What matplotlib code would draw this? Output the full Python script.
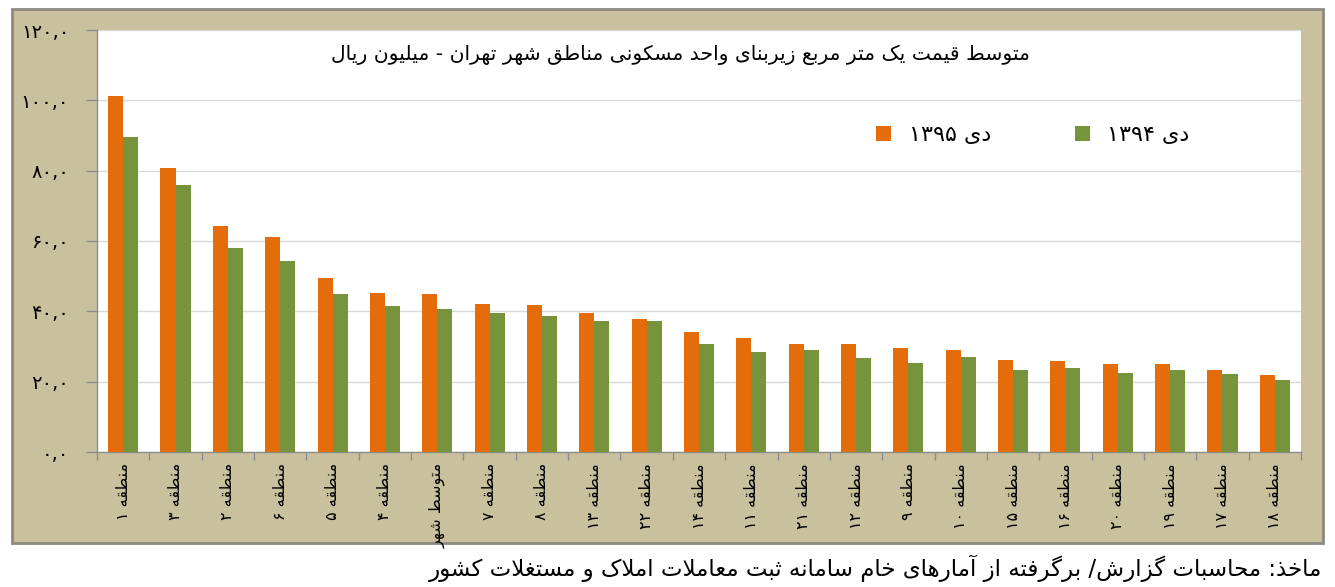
import matplotlib
matplotlib.use("Agg")
import matplotlib.pyplot as plt
from matplotlib.patches import Rectangle, Patch
import numpy as np

# ---------------- data ----------------
categories = ["منطقه ۱", "منطقه ۳", "منطقه ۲", "منطقه ۶", "منطقه ۵", "منطقه ۴",
              "متوسط شهر", "منطقه ۷", "منطقه ۸", "منطقه ۱۳", "منطقه ۲۲", "منطقه ۱۴",
              "منطقه ۱۱", "منطقه ۲۱", "منطقه ۱۲", "منطقه ۹", "منطقه ۱۰", "منطقه ۱۵",
              "منطقه ۱۶", "منطقه ۲۰", "منطقه ۱۹", "منطقه ۱۷", "منطقه ۱۸"]
values_1395 = [101.1, 80.8, 64.3, 61.0, 49.6, 45.1, 44.8, 42.0, 41.8, 39.6, 37.7, 34.0,
               32.5, 30.7, 30.7, 29.5, 29.1, 26.1, 25.8, 25.1, 24.9, 23.2, 21.8]
values_1394 = [89.7, 76.0, 57.9, 54.4, 44.9, 41.5, 40.8, 39.6, 38.6, 37.2, 37.2, 30.7,
               28.3, 29.0, 26.8, 25.3, 27.0, 23.3, 23.9, 22.4, 23.2, 22.2, 20.5]
series_labels = ["دی ۱۳۹۵", "دی ۱۳۹۴"]
yticks = [0, 20, 40, 60, 80, 100, 120]
title_text = "متوسط قیمت یک متر مربع زیربنای واحد مسکونی مناطق شهر تهران - میلیون ریال"
source_text = "ماخذ: محاسبات گزارش/ برگرفته از آمارهای خام سامانه ثبت معاملات املاک و مستغلات کشور"

# ---------------- minimal Persian shaping + bidi ----------------
FORMS = {
    'ا': ('\uFE8D', '\uFE8E', None, None), 'آ': ('\uFE81', '\uFE82', None, None),
    'ب': ('\uFE8F', '\uFE90', '\uFE91', '\uFE92'), 'پ': ('\uFB56', '\uFB57', '\uFB58', '\uFB59'),
    'ت': ('\uFE95', '\uFE96', '\uFE97', '\uFE98'), 'ث': ('\uFE99', '\uFE9A', '\uFE9B', '\uFE9C'),
    'ج': ('\uFE9D', '\uFE9E', '\uFE9F', '\uFEA0'), 'چ': ('\uFB7A', '\uFB7B', '\uFB7C', '\uFB7D'),
    'ح': ('\uFEA1', '\uFEA2', '\uFEA3', '\uFEA4'), 'خ': ('\uFEA5', '\uFEA6', '\uFEA7', '\uFEA8'),
    'د': ('\uFEA9', '\uFEAA', None, None), 'ذ': ('\uFEAB', '\uFEAC', None, None),
    'ر': ('\uFEAD', '\uFEAE', None, None), 'ز': ('\uFEAF', '\uFEB0', None, None),
    'ژ': ('\uFB8A', '\uFB8B', None, None),
    'س': ('\uFEB1', '\uFEB2', '\uFEB3', '\uFEB4'), 'ش': ('\uFEB5', '\uFEB6', '\uFEB7', '\uFEB8'),
    'ص': ('\uFEB9', '\uFEBA', '\uFEBB', '\uFEBC'), 'ض': ('\uFEBD', '\uFEBE', '\uFEBF', '\uFEC0'),
    'ط': ('\uFEC1', '\uFEC2', '\uFEC3', '\uFEC4'), 'ظ': ('\uFEC5', '\uFEC6', '\uFEC7', '\uFEC8'),
    'ع': ('\uFEC9', '\uFECA', '\uFECB', '\uFECC'), 'غ': ('\uFECD', '\uFECE', '\uFECF', '\uFED0'),
    'ف': ('\uFED1', '\uFED2', '\uFED3', '\uFED4'), 'ق': ('\uFED5', '\uFED6', '\uFED7', '\uFED8'),
    'ک': ('\uFB8E', '\uFB8F', '\uFB90', '\uFB91'), 'گ': ('\uFB92', '\uFB93', '\uFB94', '\uFB95'),
    'ل': ('\uFEDD', '\uFEDE', '\uFEDF', '\uFEE0'), 'م': ('\uFEE1', '\uFEE2', '\uFEE3', '\uFEE4'),
    'ن': ('\uFEE5', '\uFEE6', '\uFEE7', '\uFEE8'), 'و': ('\uFEED', '\uFEEE', None, None),
    'ه': ('\uFEE9', '\uFEEA', '\uFEEB', '\uFEEC'), 'ی': ('\uFBFC', '\uFBFD', '\uFBFE', '\uFBFF'),
}
LAM_ALEF = {'ا': ('\uFEFB', '\uFEFC'), 'آ': ('\uFEF5', '\uFEF6')}


def _dual(c):
    return c in FORMS and FORMS[c][2] is not None


def shape(s):
    out = []
    i = 0
    n = len(s)
    while i < n:
        c = s[i]
        if c not in FORMS:
            out.append(c)
            i += 1
            continue
        prev = s[i - 1] if i > 0 else ''
        cp = _dual(prev)
        if c == 'ل' and i + 1 < n and s[i + 1] in LAM_ALEF:
            iso, fin = LAM_ALEF[s[i + 1]]
            out.append(fin if cp else iso)
            i += 2
            continue
        nxt = s[i + 1] if i + 1 < n else ''
        cn = _dual(c) and nxt in FORMS
        iso, fin, ini, med = FORMS[c]
        if cp and cn:
            out.append(med)
        elif cp:
            out.append(fin)
        elif cn:
            out.append(ini)
        else:
            out.append(iso)
        i += 1
    return ''.join(out)


def is_ltr(c):
    return ('\u06F0' <= c <= '\u06F9') or c.isdigit() or c in ',.'


def fa(s):
    sh = shape(s)
    runs = []
    for c in sh:
        kind = is_ltr(c)
        if runs and runs[-1][0] == kind:
            runs[-1][1].append(c)
        else:
            runs.append([kind, [c]])
    vis = []
    for kind, chars in reversed(runs):
        vis.append(''.join(chars) if kind else ''.join(reversed(chars)))
    return ''.join(vis)


def fa_digits(s):
    return s.translate(str.maketrans('0123456789', '۰۱۲۳۴۵۶۷۸۹'))


# ---------------- figure ----------------
W, H = 1335, 587
plt.rcParams['font.family'] = ['DejaVu Sans']
fig = plt.figure(figsize=(W / 100, H / 100), dpi=100, facecolor='white')

tan = '#C9C19D'
frame = Rectangle((12 / W, 1 - 543 / H), (1323 - 12) / W, (543 - 9) / H,
                  transform=fig.transFigure, facecolor=tan, edgecolor='#8C8A7E',
                  linewidth=2.0, zorder=-10)
fig.patches.append(frame)

ax_left, ax_right, ax_top, ax_bot = 97, 1301, 30, 452
ax = fig.add_axes([ax_left / W, 1 - ax_bot / H, (ax_right - ax_left) / W, (ax_bot - ax_top) / H])
ax.set_zorder(5)
ax.set_facecolor('white')

x = np.arange(len(categories))
bw = 0.287
ax.bar(x - bw / 2, values_1395, bw, color='#E46C0A', label=fa(series_labels[0]), zorder=3)
ax.bar(x + bw / 2, values_1394, bw, color='#77933C', label=fa(series_labels[1]), zorder=3)

ax.set_xlim(-0.5, len(categories) - 0.5)
ax.set_ylim(0, 120)
ax.set_yticks(yticks)
ax.set_yticklabels([fa_digits(f"{v:.1f}".replace('.', ',')) for v in yticks], fontsize=14)
ax.yaxis.grid(True, color='#D9D9D9', linewidth=1.0, zorder=0)
ax.set_axisbelow(True)
ax.tick_params(axis='y', length=8, width=1, color='#8C8C8C', pad=12)

ax.set_xticks(x)
ax.set_xticklabels([fa(c) for c in categories], rotation=90, fontsize=11.5, va='top', ha='center')
ax.tick_params(axis='x', which='major', length=0, pad=8)
ax.set_xticks(np.arange(len(categories) + 1) - 0.5, minor=True)
ax.tick_params(axis='x', which='minor', length=6, width=1, color='#8C8C8C')

for s in ('top', 'right'):
    ax.spines[s].set_visible(False)
for s in ('left', 'bottom'):
    ax.spines[s].set_color('#8C8C8C')
    ax.spines[s].set_linewidth(1.0)

ax.text((680 - ax_left) / (ax_right - ax_left), (ax_bot - 55) / (ax_bot - ax_top), fa(title_text),
        transform=ax.transAxes, ha='center', va='center', fontsize=14.6,
        color='black', zorder=6)

leg = ax.legend(ncol=2, loc='center', bbox_to_anchor=((1033 - ax_left) / (ax_right - ax_left),
                                                      (ax_bot - 135) / (ax_bot - ax_top)),
                frameon=False, fontsize=16, handlelength=0.65, handleheight=0.65,
                handletextpad=0.8, columnspacing=3.8)

fig.text(1322 / W, 1 - 568 / H, fa(source_text), ha='right', va='center', fontsize=16.5, color='black')

fig.savefig('out.png', dpi=100, facecolor='white')
